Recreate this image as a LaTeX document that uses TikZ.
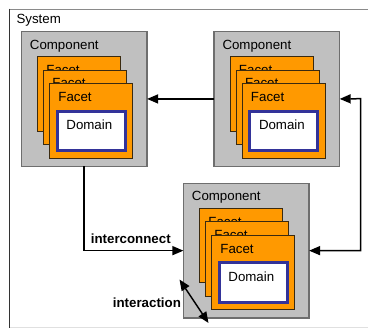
\documentclass[tikz,border=0pt]{standalone}
\usepackage{fontspec}
\setmainfont{Liberation Sans}
\usetikzlibrary{arrows.meta}
\definecolor{compfill}{HTML}{C0C0C0}
\definecolor{compdraw}{HTML}{6E6E6E}
\definecolor{facetfill}{HTML}{FF9900}
\definecolor{facetdraw}{HTML}{3A2A10}
\definecolor{domdraw}{HTML}{333399}
\definecolor{framedark}{HTML}{333333}
\definecolor{framegray}{HTML}{8A8A8A}
\definecolor{framelight}{HTML}{E0E0E0}
\tikzset{
  compbox/.style={draw=compdraw, fill=compfill, line width=1.3pt, minimum width=125.7pt, minimum height=134.7pt, anchor=north west, inner sep=0pt, outer sep=0pt},
  facetbox/.style={draw=facetdraw, fill=facetfill, line width=1pt, minimum width=83pt, minimum height=74.5pt, anchor=north west, inner sep=0pt, outer sep=0pt},
  dombox/.style={draw=domdraw, fill=white, line width=3pt, minimum width=68pt, minimum height=39.7pt, anchor=north west, inner sep=0pt, outer sep=0pt},
  lbl/.style={anchor=base west, inner sep=0pt, font=\fontsize{13.3}{16}\selectfont},
  blbl/.style={lbl, font=\fontsize{13.3}{16}\selectfont\bfseries},
  conn/.style={line width=1.5pt, -{Triangle[length=11pt,width=9pt]}},
  dconn/.style={line width=1.5pt, {Triangle[length=11pt,width=9pt]}-{Triangle[length=11pt,width=9pt]}}
}
\newcommand\mycomp[3]{%
  \node[compbox] (#1) at (#2,#3) {};
  \node[lbl] (#1-t) at (#2+8.3,#3+17.7) {Component};
  \node[facetbox] (#1-f1) at (#2+16.5,#3+25.2) {};
  \node[lbl] (#1-f1t) at (#2+16.5+8.3,#3+25.2+17.7) {Facet};
  \node[facetbox] (#1-f2) at (#2+22.5,#3+38.7) {};
  \node[lbl] (#1-f2t) at (#2+22.5+8.3,#3+38.7+17.7) {Facet};
  \node[facetbox] (#1-f3) at (#2+28.5,#3+52.2) {};
  \node[lbl] (#1-f3t) at (#2+28.5+8.3,#3+52.2+17.7) {Facet};
  \node[dombox] (#1-d) at (#2+28.5+7.3,#3+52.2+27.3) {};
  \node[lbl] (#1-dt) at (#2+28.5+7.3+9,#3+52.2+27.3+18.5) {Domain};
}
\begin{document}
\begin{tikzpicture}[x=1pt,y=-1pt]
\useasboundingbox (0,0) rectangle (368,329);
% system frame
\draw[framegray, line width=1.2pt] (9,9.3) -- (370,9.3);
\draw[framelight, line width=1pt] (9,327.8) -- (370,327.8);
\draw[framedark, line width=1.6pt] (9.5,8.7) -- (9.5,328.3);
\node[lbl] (sys) at (16.3,23.3) {System};
% components
\mycomp{c1}{21.4}{31.6}
\mycomp{c2}{214}{31.6}
\mycomp{c3}{183.4}{183.3}
% connectors
\coordinate (rc) at (360.7,98.7);
\draw[conn] (c2.west) -- (c1.east);
\draw[dconn] (c2.east) -- (rc) |- (c3.east);
\draw[conn] (c1.south) |- (c3.west);
\node[blbl] (ic) at (90.7,244) {interconnect};
\coordinate (ia) at (179.5,279.5);
\coordinate (ib) at (208.5,323);
\draw[dconn] (ia) -- (ib);
\node[blbl] (it) at (112.7,307.3) {interaction};
\end{tikzpicture}
\end{document}
